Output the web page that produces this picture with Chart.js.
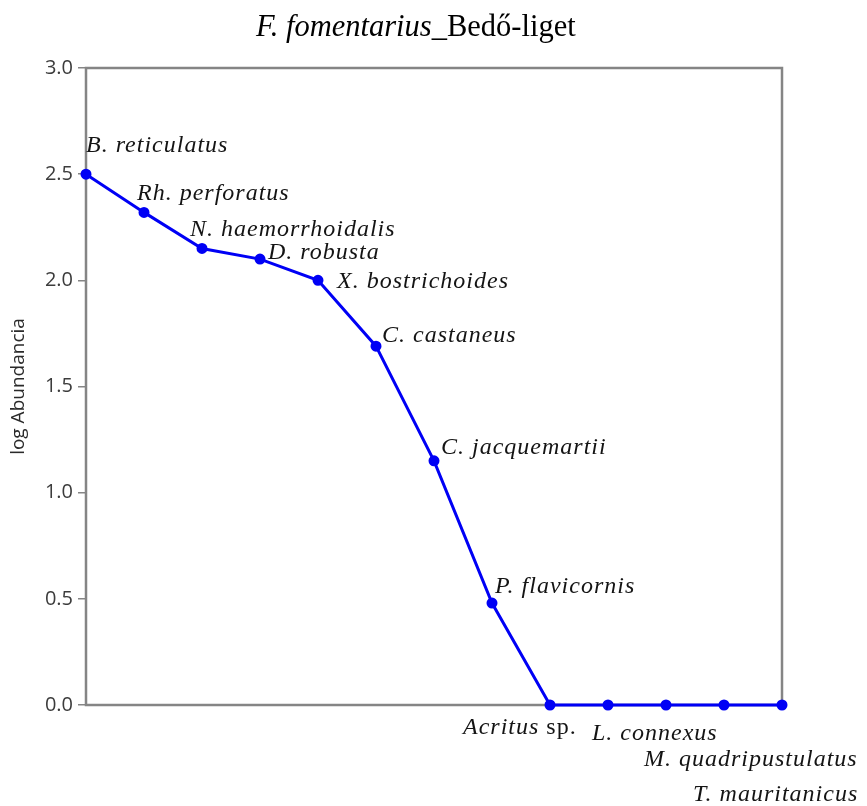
<!DOCTYPE html>
<html>
<head>
<meta charset="utf-8">
<script src="https://cdn.jsdelivr.net/npm/chart.js@4/dist/chart.umd.min.js"></script>
<style>
  html, body { margin: 0; padding: 0; background: #fff; }
  #wrap { width: 867px; height: 806px; }
</style>
</head>
<body>
<div id="wrap"><canvas id="chart" width="867" height="806"></canvas></div>
<script>
// ── Data ─────────────────────────────────────────────────────────────────────
const species = [
  'B. reticulatus', 'Rh. perforatus', 'N. haemorrhoidalis', 'D. robusta',
  'X. bostrichoides', 'C. castaneus', 'C. jacquemartii', 'P. flavicornis',
  'Acritus sp.', 'L. connexus', 'M. quadripustulatus', 'T. mauritanicus', '',
]
const logAbundance = [2.50, 2.32, 2.15, 2.10, 2.00, 1.69, 1.15, 0.48, 0, 0, 0, 0, 0]
const titleItalic  = 'F. fomentarius'
const titlePlain   = '_Bedő-liget'
const yAxisTitle   = 'log Abundancia'

// label placement relative to its point (left x, baseline y)
const labelOffsets = [
  [0, -22], [-7, -12], [-12, -12], [8, 0], [19, 8], [6, -4], [7, -7], [3, -10],
  [-87, 29], [-16, 35], [-22, 61], [-31, 96], [0, 0],
]

const BLUE = '#0000f5'
const AXIS = '#858585'
const SERIF = "'Liberation Serif', 'Times New Roman', serif"

// ── Plot frame (drawn under the line) ────────────────────────────────────────
const framePlugin = {
  id: 'frame',
  beforeDatasetsDraw(chart) {
    const { ctx, chartArea: a } = chart
    ctx.save()
    ctx.strokeStyle = AXIS
    ctx.lineWidth = 2.5
    ctx.strokeRect(a.left, a.top, a.right - a.left, a.bottom - a.top)
    ctx.restore()
  },
}

// ── Species labels + title ───────────────────────────────────────────────────
const labelPlugin = {
  id: 'labels',
  afterDatasetsDraw(chart) {
    const { ctx } = chart
    const meta = chart.getDatasetMeta(0)
    ctx.save()
    ctx.fillStyle = '#141414'
    ctx.textBaseline = 'alphabetic'
    ctx.textAlign = 'left'
    ctx.letterSpacing = '1px'
    meta.data.forEach((pt, i) => {
      const name = species[i]
      if (!name) return
      const [dx, dy] = labelOffsets[i]
      let x = pt.x + dx
      const y = pt.y + dy
      if (name.endsWith(' sp.')) {
        const genus = name.slice(0, -4)
        ctx.font = 'italic 24px ' + SERIF
        ctx.fillText(genus, x, y)
        x += ctx.measureText(genus + ' ').width
        ctx.font = '24px ' + SERIF
        ctx.fillText('sp.', x, y)
      } else {
        ctx.font = 'italic 24px ' + SERIF
        ctx.fillText(name, x, y)
      }
    })

    // title
    ctx.letterSpacing = '0px'
    ctx.fillStyle = '#000'
    let tx = 256
    ctx.font = 'italic 30.5px ' + SERIF
    ctx.fillText(titleItalic, tx, 36)
    tx += ctx.measureText(titleItalic).width
    ctx.font = '30.5px ' + SERIF
    ctx.fillText(titlePlain, tx, 36)
    ctx.restore()
  },
}

new Chart(document.getElementById('chart'), {
  type: 'line',
  data: {
    labels: species,
    datasets: [{
      data: logAbundance,
      borderColor: BLUE,
      backgroundColor: BLUE,
      borderWidth: 3,
      pointRadius: 4,
      pointHoverRadius: 4,
      tension: 0,
      clip: false,
    }],
  },
  options: {
    responsive: false,
    animation: false,
    events: [],
    layout: { padding: { top: 68, right: 85, bottom: 101, left: 0 } },
    plugins: {
      legend: { display: false },
      title: { display: false },
      tooltip: { enabled: false },
    },
    scales: {
      x: { display: false },
      y: {
        min: 0,
        max: 3,
        afterFit(scale) { scale.width = 86 },
        border: { display: false },
        grid: { drawOnChartArea: false, drawTicks: true, tickLength: 8, color: AXIS, lineWidth: 1.5 },
        ticks: {
          stepSize: 0.5,
          padding: 5,
          color: '#3c3c3c',
          font: { family: "'Open Sans', sans-serif", size: 20 },
          callback: v => v.toFixed(1),
        },
        title: {
          display: true,
          text: yAxisTitle,
          color: '#2a2a2a',
          font: { family: "'Open Sans', sans-serif", size: 19 },
          padding: { top: 7, bottom: 0 },
        },
      },
    },
  },
  plugins: [framePlugin, labelPlugin],
})
</script>
</body>
</html>
